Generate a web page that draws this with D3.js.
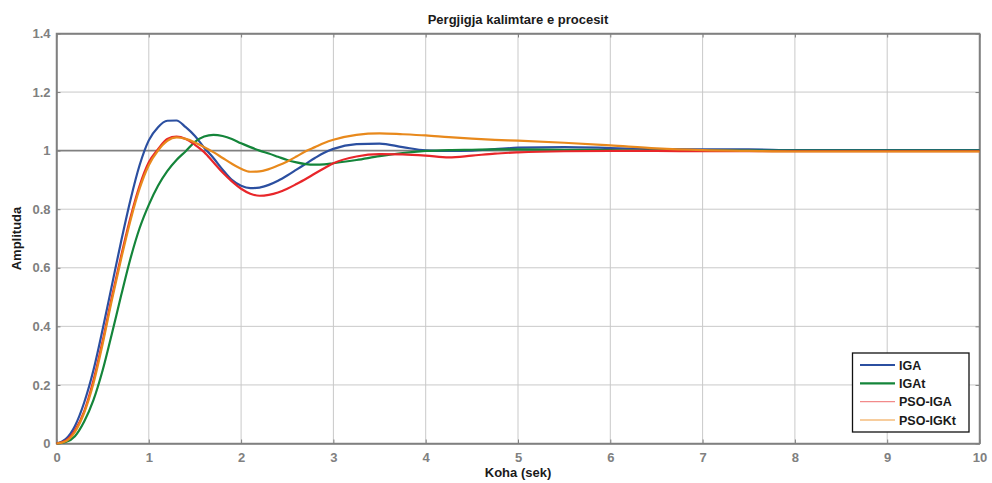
<!DOCTYPE html>
<html><head><meta charset="utf-8">
<script src="https://cdn.jsdelivr.net/npm/d3@7"></script>
<style>body{margin:0;background:#fff}svg{display:block}text{font-family:Arial,"Liberation Sans",sans-serif}</style>
</head><body><svg id="c" width="992" height="483"></svg>
<script>
const time = [0,0.1,0.2,0.3,0.4,0.5,0.6,0.7,0.8,0.9,1.0,1.1,1.2,1.3,1.4,1.5,1.6,1.7,1.8,1.9,2.0,2.1,2.2,2.3,2.4,2.5,2.6,2.7,2.8,2.9,3.0,3.25,3.5,3.75,4.0,4.25,4.5,4.75,5.0,5.5,6.0,6.5,7.0,7.5,8,9,10];
const iga = [0,0.015,0.06,0.14,0.25,0.39,0.54,0.69,0.83,0.95,1.035,1.08,1.102,1.103,1.08,1.05,1.01,0.975,0.935,0.90,0.88,0.872,0.874,0.883,0.897,0.915,0.935,0.955,0.975,0.993,1.006,1.022,1.024,1.012,1.001,0.999,1.0,1.005,1.01,1.012,1.009,1.005,1.004,1.004,1.002,1.002,1.002];
const igat = [0,0.005,0.025,0.075,0.148,0.25,0.375,0.505,0.63,0.735,0.815,0.88,0.93,0.968,0.998,1.03,1.048,1.054,1.05,1.04,1.025,1.012,1.0,0.99,0.979,0.968,0.96,0.954,0.952,0.953,0.957,0.968,0.981,0.992,0.999,1.002,1.003,1.004,1.004,1.003,1.002,1.0,1.0,1.0,1.0,1.0,1.0];
const psoIga = [0,0.01,0.045,0.11,0.215,0.35,0.5,0.64,0.77,0.88,0.96,1.005,1.04,1.048,1.04,1.02,0.995,0.96,0.925,0.895,0.87,0.853,0.846,0.849,0.857,0.87,0.886,0.903,0.922,0.94,0.957,0.98,0.988,0.987,0.983,0.977,0.983,0.99,0.994,0.998,0.999,0.999,0.998,0.998,0.998,0.998,0.998];
const psoIgkt = [0,0.008,0.04,0.105,0.205,0.34,0.49,0.63,0.76,0.87,0.95,1.0,1.033,1.045,1.04,1.028,1.012,0.995,0.975,0.955,0.938,0.928,0.929,0.937,0.949,0.963,0.98,0.998,1.012,1.026,1.037,1.054,1.059,1.056,1.052,1.046,1.041,1.037,1.034,1.027,1.018,1.008,1.002,0.999,0.997,0.997,0.997];
const seriesNames = ["IGA","IGAt","PSO-IGA","PSO-IGKt"];
const seriesColors = ["#2b4fa0","#14853a","#e8262a","#e8891c"];
const legendColors = ["#2b4fa0","#14853a","#f28a8a","#f5bd7d"];
const xTicks = [0,1,2,3,4,5,6,7,8,9,10];
const yTicks = [0,0.2,0.4,0.6,0.8,1,1.2,1.4];
const title = "Pergjigja kalimtare e procesit";
const xLabel = "Koha (sek)";
const yLabel = "Amplituda";

const svg = d3.select("#c");
const L=56.5, R=979.5, T=33.5, B=443.5;
const x = d3.scaleLinear().domain([0,10]).range([L,R]);
const y = d3.scaleLinear().domain([0,1.4]).range([B,T]);
const gray="#808080", grid="#c9c9c9";

// grid
svg.append("g").selectAll("line").data(xTicks.slice(1,-1)).join("line")
  .attr("x1",d=>x(d)).attr("x2",d=>x(d)).attr("y1",T).attr("y2",B)
  .attr("stroke",grid).attr("stroke-width",1);
svg.append("g").selectAll("line").data(yTicks.slice(1,-1).filter(d=>d!==1)).join("line")
  .attr("x1",L).attr("x2",R).attr("y1",d=>y(d)).attr("y2",d=>y(d))
  .attr("stroke",grid).attr("stroke-width",1);
// unity reference line
svg.append("line").attr("x1",L).attr("x2",R).attr("y1",y(1)).attr("y2",y(1))
  .attr("stroke",gray).attr("stroke-width",1.8);

// frame
svg.append("rect").attr("x",L).attr("y",T).attr("width",R-L).attr("height",B-T)
  .attr("fill","none").attr("stroke",gray).attr("stroke-width",1.5);

// axes
const xa = svg.append("g").attr("transform",`translate(0,${B})`)
  .call(d3.axisBottom(x).tickValues(xTicks).tickFormat(d3.format("d")).tickSizeInner(-4).tickSizeOuter(0).tickPadding(9));
const xaTop = svg.append("g").attr("transform",`translate(0,${T})`)
  .call(d3.axisTop(x).tickValues(xTicks).tickFormat("").tickSizeInner(-4).tickSizeOuter(0));
const ya = svg.append("g").attr("transform",`translate(${L},0)`)
  .call(d3.axisLeft(y).tickValues(yTicks).tickFormat(d=>d===0||d===1?d3.format("d")(d):d3.format(".1f")(d)).tickSizeInner(-4).tickSizeOuter(0).tickPadding(6));
const yaR = svg.append("g").attr("transform",`translate(${R},0)`)
  .call(d3.axisRight(y).tickValues(yTicks).tickFormat("").tickSizeInner(-4).tickSizeOuter(0));
[xa,xaTop,ya,yaR].forEach(g=>{
  g.select(".domain").attr("stroke",gray).attr("stroke-width",1.5);
  g.selectAll(".tick line").attr("stroke",gray);
  g.selectAll("text").attr("fill",gray).attr("font-size",13).attr("font-weight","bold").attr("font-family","Arial, 'Liberation Sans', sans-serif");
});

// lines
const data = [iga,igat,psoIga,psoIgkt];
const line = d3.line().x((d,i)=>x(time[i])).y(d=>y(d)).curve(d3.curveMonotoneX);
const lg = svg.append("g");
data.forEach((s,k)=>{
  lg.append("path").attr("d",line(s)).attr("fill","none")
    .attr("stroke",seriesColors[k]).attr("stroke-width",2.2).attr("stroke-linejoin","round");
});

// titles
svg.append("text").attr("x",(L+R)/2).attr("y",24).attr("text-anchor","middle")
  .attr("font-size",13).attr("font-weight","bold").attr("fill","#1a1a1a").text(title);
svg.append("text").attr("x",(L+R)/2).attr("y",477).attr("text-anchor","middle")
  .attr("font-size",13).attr("font-weight","bold").attr("fill","#1a1a1a").text(xLabel);
svg.append("text").attr("transform",`translate(21,${(T+B)/2}) rotate(-90)`).attr("text-anchor","middle")
  .attr("font-size",13).attr("font-weight","bold").attr("fill","#1a1a1a").text(yLabel);

// legend
const lgX=852.5, lgY=353, lgW=116.5, lgH=79;
const leg = svg.append("g");
leg.append("rect").attr("x",lgX).attr("y",lgY).attr("width",lgW).attr("height",lgH)
  .attr("fill","#fff").attr("stroke","#111").attr("stroke-width",1.3);
const ly = d3.scalePoint().domain(seriesNames).range([365,420]);
seriesNames.forEach((n,k)=>{
  leg.append("line").attr("x1",860).attr("x2",895).attr("y1",ly(n)).attr("y2",ly(n))
    .attr("stroke",legendColors[k]).attr("stroke-width",k<2?2.2:1.4);
  leg.append("text").attr("x",899).attr("y",ly(n)+4.5).attr("font-size",12.5).attr("font-weight","bold")
    .attr("fill","#1a1a1a").text(n);
});
</script></body></html>
